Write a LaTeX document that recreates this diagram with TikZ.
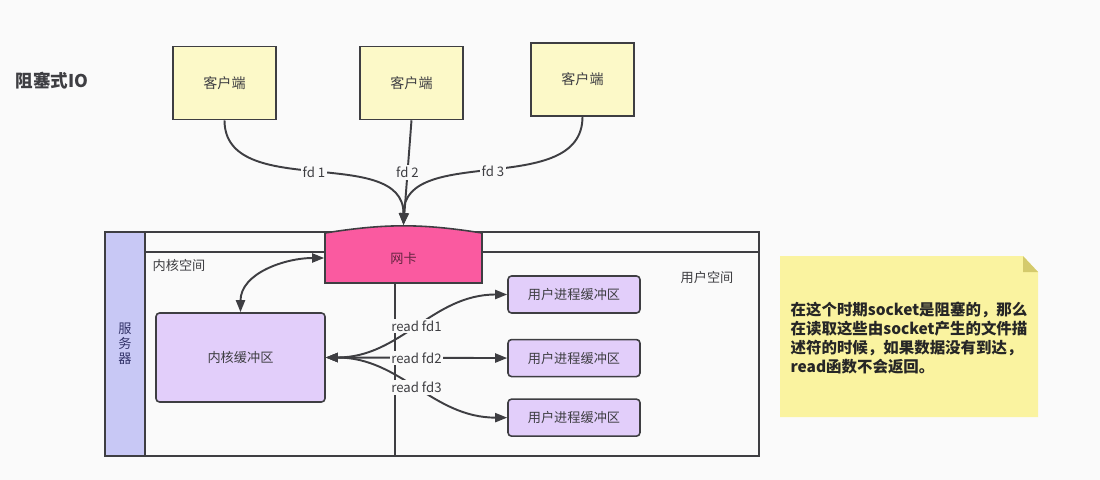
\documentclass[tikz,border=0pt]{standalone}
\usepackage{fontspec}
\setmainfont{Noto Sans CJK SC}
\usetikzlibrary{arrows.meta,positioning,calc}
\definecolor{ioclient}{RGB}{252,249,200}
\definecolor{ionic}{RGB}{250,90,160}
\definecolor{iobuf}{RGB}{226,206,250}
\definecolor{ioserver}{RGB}{200,200,245}
\definecolor{ionote}{RGB}{250,243,160}
\definecolor{iofold}{RGB}{212,202,108}
\definecolor{ioline}{RGB}{62,62,66}
\definecolor{iobg}{RGB}{250,250,250}

\begin{document}
\begin{tikzpicture}[x=0.02cm, y=-0.02cm, font=\fontsize{7.5}{9}\selectfont, >={Triangle[length=2.4mm,width=1.8mm]}, line width=0.9pt, color=ioline]
  \tikzset{client/.style={draw, fill=ioclient, minimum width=2.06cm, minimum height=1.46cm, font=\fontsize{8}{10}\selectfont},buffer/.style={draw, fill=iobuf, rounded corners=2pt},userbuf/.style={buffer, minimum width=2.64cm, minimum height=0.74cm},fdlabel/.style={fill=iobg, inner sep=1pt},link/.style={line width=1.1pt}}
  \useasboundingbox[fill=iobg] (0,0) rectangle (1100,480);

  \node[font=\fontsize{10}{12}\selectfont\bfseries, anchor=west] (title) at (9,81) {阻塞式IO};
  \node[client] (client1) at (224.5,83) {客户端};
  \node[client] (client2) at (411.5,83) {客户端};
  \node[client] (client3) at (582.5,79.5) {客户端};

  % server frame
  \draw (105,232) rectangle (759,456);
  \node[draw, fill=ioserver, minimum width=0.81cm, minimum height=4.48cm, align=center, font=\fontsize{7.5}{8.6}\selectfont, text=ioline!80!blue] (server) at (125,344) {服\\务\\器};
  \draw (145.5,252) -- (759,252);
  \draw (395,283) -- (395,456);

  \coordinate (nicnw) at (325,233);
  \coordinate (nicse) at (482,283);
  \draw[fill=ionic] (nicnw) to[bend left=9] (nicnw -| nicse) -- (nicse) -- (nicnw |- nicse) -- cycle;
  \node[minimum width=3.14cm, minimum height=1.0cm, text=ionic!40!black] (nic) at ($(nicnw)!0.5!(nicse)$) {网卡};
  \coordinate (nictop) at (403.5,225);

  \node[anchor=west] (kspace) at (146,265) {内核空间};
  \node[anchor=west] (uspace) at (674,277) {用户空间};

  \node[buffer, minimum width=3.38cm, minimum height=1.78cm] (kbuf) at (240.5,357.5) {内核缓冲区};
  \node[userbuf] (ubuf1) at (574,294.5) {用户进程缓冲区};
  \node[userbuf, below=0.5cm of ubuf1] (ubuf2) {用户进程缓冲区};
  \node[userbuf, below=0.42cm of ubuf2] (ubuf3) {用户进程缓冲区};

  \draw[link, ->] (client1.south) to[out=-90,in=90] node[fdlabel] (lfd1) {fd 1} (nictop);
  \draw[link, ->] (client2.south) -- node[fdlabel] (lfd2) {fd 2} (nictop);
  \draw[link, ->] (client3.south) to[out=-90,in=90] node[fdlabel] (lfd3) {fd 3} (nictop);

  \draw[link, <->] (kbuf.north) to[out=90,in=180] (nic.west);
  \draw[link, <->] (kbuf.east) to[out=0,in=180] node[fdlabel] (lread1) {read fd1} (ubuf1.west);
  \draw[link, <->] (kbuf.east) -- node[fdlabel] (lread2) {read fd2} (ubuf2.west);
  \draw[link, <->] (kbuf.east) to[out=0,in=180] node[fdlabel] (lread3) {read fd3} (ubuf3.west);

  % note
  \fill[ionote] (780,256) -- (1023,256) -- (1038,272) -- (1038,417) -- (780,417) -- cycle;
  \fill[iofold] (1023,256) -- (1038,272) -- (1023,272) -- cycle;
  \node[align=left, font=\fontsize{8.8}{10.8}\selectfont\bfseries, text=black!85] (note) at (909,338) {在这个时期socket是阻塞的，那么\\在读取这些由socket产生的文件描\\述符的时候，如果数据没有到达，\\read函数不会返回。};
\end{tikzpicture}
\end{document}
